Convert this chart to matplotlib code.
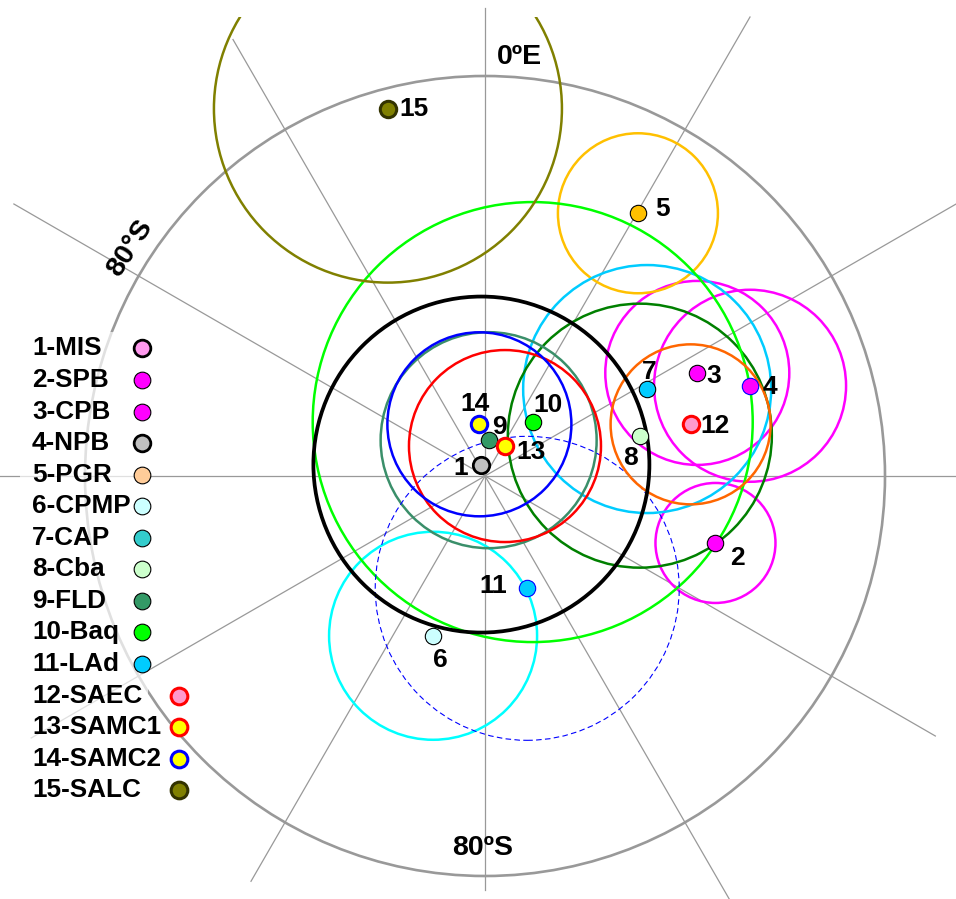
import numpy as np
import matplotlib.pyplot as plt
from matplotlib.patches import Circle, Rectangle

plt.rcParams['font.family'] = ['Liberation Sans', 'DejaVu Sans']
plt.rcParams['font.weight'] = 'bold'

# paleomagnetic poles: latitude (deg), longitude (deg E), A95 (deg)
names = ['MIS', 'SPB', 'CPB', 'NPB', 'PGR', 'CPMP', 'CAP', 'Cba',
         'FLD', 'Baq', 'LAd', 'SAEC', 'SAMC1', 'SAMC2', 'SALC']
lat = [-89.7, -84.0, -84.1, -83.0, -82.4, -85.8, -85.4, -86.0,
       -89.1, -88.2, -87.0, -84.7, -89.1, -88.7, -80.5]
lon = [342.5, 106.2, 64.1, 71.2, 30.2, 198.0, 61.8, 75.4,
       5.8, 41.5, 159.4, 75.9, 33.7, 353.8, 345.2]
a95 = [4.2, 1.5, 2.3, 2.4, 2.0, 2.6, 3.1, 3.3,
       2.7, 5.5, 3.8, 2.0, 2.4, 2.3, 4.35]

meridians = np.arange(0, 360, 30)
outer_lat = -80

# styles
ray_len = [11.7, 13.25, 13.6, 12.0, 13.0, 12.25, 10.35, 11.7, 13.1, 13.0, 13.6, 12.6]
circ_style = [('black', 2.7, '-'), ('#ff00ff', 1.8, '-'), ('#ff00ff', 1.8, '-'),
              ('#ff00ff', 1.8, '-'), ('#ffc000', 1.8, '-'), ('#00ffff', 1.8, '-'),
              ('#00ccff', 1.8, '-'), ('#008000', 1.8, '-'), ('#3a8f6a', 1.8, '-'),
              ('#00ff00', 1.8, '-'), ('#0000ff', 0.8, (0, (5, 3))), ('#ff6600', 1.8, '-'),
              ('#ff0000', 1.8, '-'), ('#0000ff', 1.8, '-'), ('#808000', 1.8, '-')]
pt_style = [('#c0c0c0', 'black', 2.0), ('#ff00ff', 'black', 0.8), ('#ff00ff', 'black', 0.8),
            ('#ff00ff', '#0000ff', 0.8), ('#ffc000', 'black', 0.8), ('#ccffff', 'black', 0.8),
            ('#00ccff', 'black', 0.8), ('#ccffcc', 'black', 0.8), ('#339966', 'black', 0.8),
            ('#00ff00', 'black', 0.8), ('#00ccff', '#0000ff', 0.8), ('#ff99cc', '#ff0000', 2.2),
            ('#ffff00', '#ff0000', 2.2), ('#ffff00', '#0000ff', 2.2), ('#808000', '#333300', 2.2)]
leg_style = [('#ff99ee', 'black', 2.0), ('#ff00ff', 'black', 0.8), ('#ff00ff', 'black', 0.8),
             ('#c0c0c0', 'black', 2.0), ('#ffcc99', 'black', 0.8), ('#ccffff', 'black', 0.8),
             ('#33cccc', 'black', 0.8), ('#ccffcc', 'black', 0.8), ('#339966', 'black', 0.8),
             ('#00ff00', 'black', 0.8), ('#00ccff', 'black', 0.8), ('#ff99cc', '#ff0000', 2.2),
             ('#ffff00', '#ff0000', 2.2), ('#ffff00', '#0000ff', 2.2), ('#808000', '#333300', 2.2)]
lab_off = [(-21, -3), (22, -15), (16, -3), (20, -1), (25, 4), (7, -24), (2, 17), (-9, -22),
           (11, 13), (15, 17), (-34, 2), (24, -2), (26, -6), (-4, 20), (26, 0)]


def proj(la, lo):
    r = 90 + np.asarray(la)
    t = np.radians(lo)
    return r * np.sin(t), r * np.cos(t)


fig = plt.figure(figsize=(9.56, 8.99), dpi=100)
ax = fig.add_axes([0, 0, 1, 1])
ax.set_xlim(-12.125, 11.775)
ax.set_ylim(-10.575, 11.9)
ax.set_aspect('equal')
ax.axis('off')

# graticule
for m, L in zip(meridians, ray_len):
    t = np.radians(m)
    ax.plot([0, L * np.sin(t)], [0, L * np.cos(t)], color='#999999', lw=0.9, zorder=1)
ax.add_patch(Circle((0, 0), 90 + outer_lat, fill=False, ec='#999999', lw=1.9, zorder=1))

ax.text(0.85, 10.475, '0ºE', fontsize=20.5, ha='center', va='center')
ax.text(-0.05, -9.3, '80ºS', fontsize=20.5, ha='center', va='center')
ax.text(-8.875, 5.7, '80°S', fontsize=20.5, ha='center', va='center', rotation=57)

x, y = proj(lat, lon)

# confidence circles, cut at the top of the frame
frame = Rectangle((-13, -11), 26, 22.475, transform=ax.transData, visible=False)
ax.add_patch(frame)
for i in range(len(names)):
    c, lw, ls = circ_style[i]
    z = 4 if i == 0 else 3
    p = ax.add_patch(Circle((x[i], y[i]), a95[i], fill=False, ec=c, lw=lw, ls=ls, zorder=z))
    p.set_clip_path(frame)

# poles
for i in range(len(names)):
    fc, ec, ew = pt_style[i]
    ax.plot(x[i], y[i], 'o', ms=11.8, mfc=fc, mec=ec, mew=ew, zorder=6)
    ax.annotate(str(i + 1), (x[i], y[i]), xytext=lab_off[i], textcoords='offset pixels',
                fontsize=19, ha='center', va='center', zorder=7)

# legend
ax.add_patch(Rectangle((-11.625, -8.3), 3.2, 11.9, fc='white', ec='none', alpha=0.7, zorder=5))
for i, nm in enumerate(names):
    yy = 3.19 - i * 0.789
    ax.text(-11.325, yy, f'{i + 1}-{nm}', fontsize=18.8, ha='left', va='center', zorder=7)
    mx = -7.65 if i >= 11 else -8.575
    fc, ec, ew = leg_style[i]
    ax.plot(mx, yy, 'o', ms=12, mfc=fc, mec=ec, mew=ew, zorder=7)

fig.savefig('out.png', dpi=100)
